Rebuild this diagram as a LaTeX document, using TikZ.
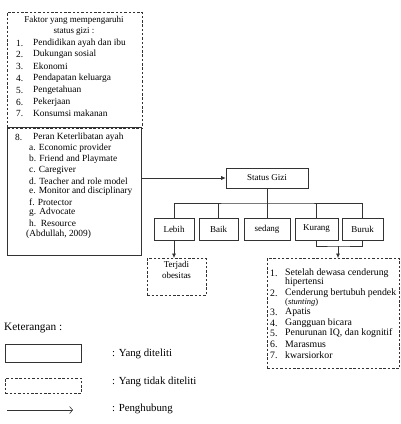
\documentclass[tikz,border=0pt]{standalone}
\usepackage{fontspec}
\setmainfont{Liberation Serif}
\usetikzlibrary{arrows.meta}
\begin{document}
\begin{tikzpicture}[x=1pt,y=-1pt,
  line/.style={draw=black!80, line width=0.6pt},
  solidbox/.style={line, rectangle, inner sep=0pt, font=\fontsize{9}{10}\selectfont},
  dashbox/.style={solidbox, dash pattern=on 2.5pt off 1.8pt},
  txt/.style={anchor=west, inner sep=0pt, font=\fontsize{9.4}{10}\selectfont},
  etxt/.style={anchor=west, inner sep=0pt, font=\fontsize{9.8}{10}\selectfont},
  ctxt/.style={inner sep=0pt, align=center, font=\fontsize{9}{11}\selectfont},
  legtxt/.style={anchor=west, inner sep=0pt, font=\fontsize{10.8}{12}\selectfont},
  tip/.style={line, -{Latex[length=4.5pt,width=4pt]}},
]
\useasboundingbox (0,0) rectangle (400,424);

% Box 1: factors (dashed)
\node[dashbox, anchor=north west, minimum width=135pt, minimum height=116pt] (fac) at (7,12) {};
\node[ctxt] (factitle) at (74,25.5) {Faktor yang mempengaruhi\\status gizi :};
\foreach \n/\t/\y in {1/Pendidikan ayah dan ibu/43, 2/Dukungan sosial/54.5, 3/Ekonomi/66.5, 4/Pendapatan keluarga/78.5, 5/Pengetahuan/90, 6/Pekerjaan/102, 7/Konsumsi makanan/113.5}{
  \node[txt] (fn\n) at (16,\y) {\n.};
  \node[txt] (ft\n) at (33,\y) {\t};
}

% Box 2: father's role (solid)
\node[solidbox, anchor=north west, minimum width=134pt, minimum height=128pt] (role) at (7,127) {};
\node[txt] (rn) at (15,137) {8.};
\node[txt] (rt) at (33,137) {Peran Keterlibatan ayah};
\foreach \k/\t/\y in {a/a. Economic provider/148, b/b. Friend and Playmate/159, c/c. Caregiver/170, d/d. Teacher and role model/181, e/e. Monitor and disciplinary/191.5, f/f. Protector/202, g/g. Advocate/212.5, h/h.\ \ Resource/223}{
  \node[txt] (r\k) at (29,\y) {\t};
}
\node[txt] (rsrc) at (26,234) {(Abdullah, 2009)};

% Status gizi
\node[solidbox, minimum width=82pt, minimum height=20pt] (sg) at (267,178) {Status Gizi};
\draw[tip] (sg.west -| role.east) -- (sg.west);

% Categories
\node[solidbox, minimum width=40pt, minimum height=22pt] (lebih) at (174,229) {Lebih};
\node[solidbox, minimum width=39pt, minimum height=22pt] (baik) at (218.5,229) {Baik};
\node[solidbox, minimum width=46pt, minimum height=22pt] (sedang) at (267,229) {sedang};
\node[solidbox, minimum width=43pt, minimum height=22pt] (kurang) at (316.5,229) {Kurang};
\node[solidbox, minimum width=41pt, minimum height=22pt] (buruk) at (362.5,229) {Buruk};

\coordinate (bus) at (267,203);
\draw[line] (sg.south) -- (bus);
\draw[line] (lebih.north) |- (bus) -| (buruk.north);
\draw[line] (baik.north) -- (baik.north |- bus);
\draw[line] (sedang.north) -- (bus);
\draw[line] (kurang.north) -- (kurang.north |- bus);

% Obesitas
\node[dashbox, anchor=north west, minimum width=59pt, minimum height=37pt] (obes) at (147,258) {};
\node[ctxt, anchor=north] (obestxt) at (176.5,261) {Terjadi\\obesitas};
\draw[tip] (lebih.south) -- (lebih.south |- obes.north);

% Effects
\node[dashbox, anchor=north west, minimum width=132pt, minimum height=110pt] (eff) at (267,258) {};
\coordinate (kb) at (338,246);
\draw[line] (kurang.south) |- (kb) -| (buruk.south);
\draw[tip] (kb) -- (kb |- eff.north);
\foreach \k/\n/\t/\y in {a/1./Setelah dewasa cenderung/273, b//hipertensi/282, c/2./Cenderung bertubuh pendek/293, d//{\fontsize{8.5}{9}\selectfont(\textit{stunting})}/302, e/3./Apatis/312, f/4./Gangguan bicara/323, g/5./{Penurunan IQ, dan kognitif}/333, h/6./Marasmus/344, i/7./kwarsiorkor/355}{
  \node[etxt] (en\k) at (270,\y) {\n};
  \node[etxt] (et\k) at (285,\y) {\t};
}

% Legend
\node[legtxt, font=\fontsize{11.3}{12}\selectfont] (ket) at (4,328) {Keterangan :};
\node[solidbox, anchor=north west, minimum width=76pt, minimum height=18pt] (leg1) at (5,344) {};
\node[dashbox, anchor=north west, minimum width=76pt, minimum height=15pt] (leg2) at (5,378) {};
\coordinate (la) at (7,410);
\coordinate (lb) at (73,410);
\draw[line, -{Straight Barb[length=3pt,width=7pt]}] (la) -- (lb);
\node[legtxt] (l1) at (112,354) {: Yang diteliti};
\node[legtxt] (l2) at (112,382) {: Yang tidak diteliti};
\node[legtxt] (l3) at (112,409) {: Penghubung};
\end{tikzpicture}
\end{document}
